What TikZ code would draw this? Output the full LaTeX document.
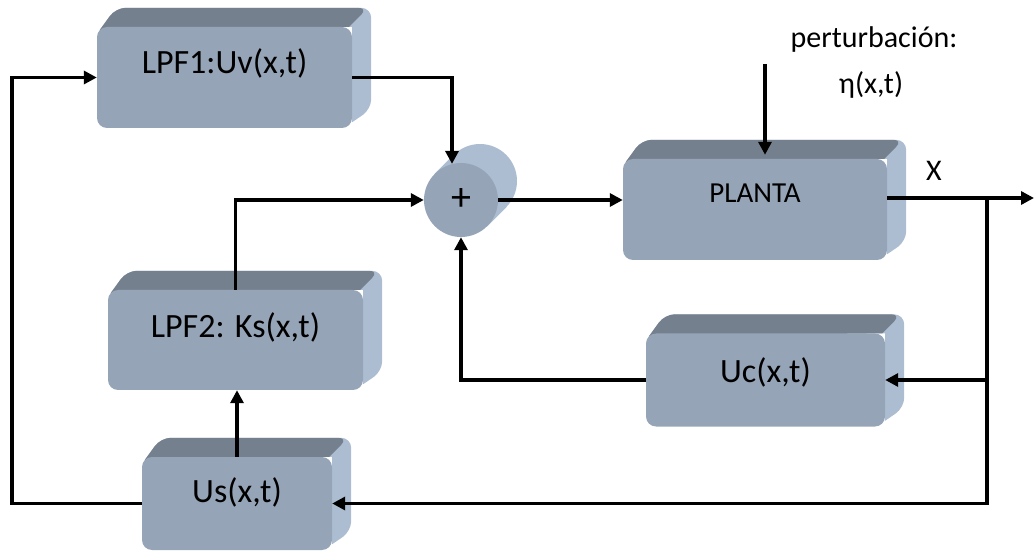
\documentclass[tikz,border=0pt]{standalone}
\usepackage{fontspec}
\setmainfont{Carlito}
\usetikzlibrary{arrows.meta,calc}
\definecolor{faceC}{RGB}{150,164,183}
\definecolor{topC}{RGB}{117,128,143}
\definecolor{sideC}{RGB}{172,189,210}
\pgfdeclarelayer{back}
\pgfsetlayers{back,main}
% depth of a block: whole silhouette in the side colour, then the top bevel
\newcommand\extrude[1]{%
  \begin{pgfonlayer}{back}
    \fill[sideC] ([xshift=6pt]#1.north west) [rounded corners=10pt] -- ([shift={(19,-19)}]#1.north west)
      -- ([shift={(19,-19)}]#1.north east) -- ([shift={(19,-19)}]#1.south east)
      [sharp corners] -- ([yshift=6pt]#1.south east) -- (#1.north east) -- cycle;
    \fill[topC] ([xshift=3pt,yshift=-3pt]#1.north west) [rounded corners=10pt] -- ([shift={(19,-19)}]#1.north west)
      -- ([shift={(16,-19)}]#1.north east) [sharp corners] -- ([xshift=-3pt]#1.north east) -- cycle;
  \end{pgfonlayer}}
\begin{document}
\begin{tikzpicture}[x=1pt,y=-1pt,
  blk/.style={rectangle, fill=faceC, rounded corners=10pt, inner sep=0pt},
  btxt/.style={font=\fontsize{34}{40}\selectfont, inner sep=0pt},
  ptxt/.style={font=\fontsize{29}{34}\selectfont, inner sep=0pt},
  lbl/.style={font=\fontsize{30}{36}\selectfont, inner sep=0pt},
  wire/.style={line width=3.5pt},
  arr/.style={wire, -{Triangle[length=13pt,width=13pt]}}]
\useasboundingbox (0,0) rectangle (1034,553);

% blocks
\node[blk, minimum width=255pt, minimum height=101pt] (lpf1) at (224.5,77.5) {};
\node[blk, minimum width=255pt, minimum height=100pt] (lpf2) at (235.5,340) {};
\node[blk, minimum width=190pt, minimum height=93pt] (us) at (237,503.5) {};
\node[blk, minimum width=264pt, minimum height=101pt] (planta) at (755,209.5) {};
\node[blk, minimum width=239pt, minimum height=93pt] (uc) at (765.5,380) {};
\node[circle, fill=faceC, minimum size=74pt, inner sep=0pt,
      font=\fontsize{40}{40}\selectfont] (sum) at (461,200) {+};

\extrude{lpf1}
\extrude{lpf2}
\extrude{us}
\extrude{planta}
\extrude{uc}
% the adder is a short cylinder seen from the front
\begin{pgfonlayer}{back}
  \fill[sideC] (sum.135) -- ([shift={(19,-19)}]sum.135) -- ([shift={(19,-19)}]sum.315) -- (sum.315) -- cycle;
  \fill[sideC] ([shift={(19,-19)}]sum.center) circle[radius=37pt];
\end{pgfonlayer}

% block texts
\node[btxt] (lpf1-t) at ([yshift=14pt]lpf1.center) {LPF1:Uv(x,t)};
\node[btxt] (lpf2-t) at ([yshift=13pt]lpf2.center) {LPF2: Ks(x,t)};
\node[btxt] (us-t) at ([yshift=11pt]us.center) {Us(x,t)};
\node[ptxt] (planta-t) at ([yshift=16pt]planta.center) {PLANTA};
\node[btxt] (uc-t) at ([yshift=8pt]uc.center) {Uc(x,t)};

% free labels
\node[lbl] (pert) at (874,40) {perturbación:};
\node[lbl] (eta) at (871,85) {η(x,t)};
\node[lbl] (xlab) at (934,171) {X};

% connectors
\coordinate (lx) at (12,300);
\coordinate (pin) at (765,64);
\coordinate (out) at (1034,198);
\coordinate (br) at (987,198);
\draw[arr] (us.west) -| (lx) |- (lpf1.west);
\draw[arr] (lpf1.east) -| (sum.104);
\draw[arr] (lpf2.north) |- (sum.west);
\draw[arr] (sum.east) -- (sum.east -| planta.west);
\draw[arr] (pin) -- ([yshift=4pt]pin |- planta.north);
\draw[arr] (planta.east |- out) -- (out);
\draw[wire] (br) -- (br |- us.east);
\draw[arr] (br) |- (uc.east);
\draw[arr] (br) |- (us.east);
\draw[arr] (uc.west) -| (sum.south);
\draw[arr] (us.north) -- (us.north |- lpf2.south);
\end{tikzpicture}
\end{document}
